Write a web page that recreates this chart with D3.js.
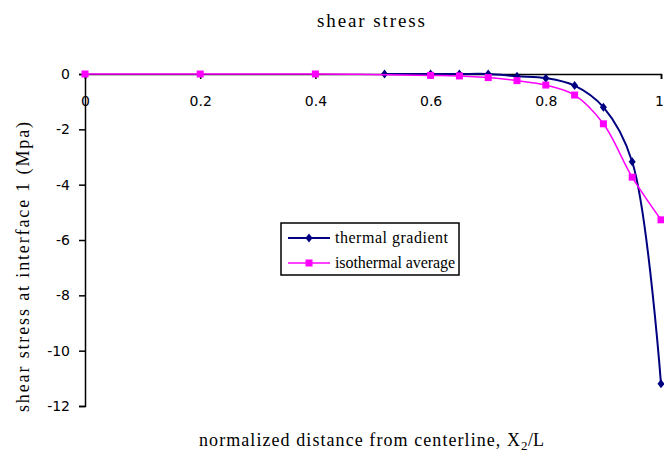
<!DOCTYPE html>
<html lang="en">
	<head>
		<meta charset="utf-8">
		<title>shear stress</title>
		<script src="https://d3js.org/d3.v7.min.js"></script>
		<style type="text/css">
			body { margin: 0; background: #fff; }
			.axis text { font-family: "DejaVu Sans", sans-serif; font-size: 14px; fill: #000; }
			.axis path, .axis line { stroke: #000; stroke-width: 1.5px; }
			.lbl { font-family: "Liberation Serif", serif; fill: #000; }
		</style>
	</head>
	<body>
		<script type="text/javascript">

			//Data
			var thermalX = [0.52, 0.6, 0.65, 0.7, 0.75, 0.8, 0.85, 0.9, 0.95, 1.0];
			var thermalY = [0, 0, 0, 0, -0.08, -0.15, -0.42, -1.2, -3.17, -11.2];
			var isoX = [0, 0.2, 0.4, 0.6, 0.65, 0.7, 0.75, 0.8, 0.85, 0.9, 0.95, 1.0];
			var isoY = [0, 0, 0, -0.05, -0.07, -0.13, -0.24, -0.4, -0.76, -1.8, -3.73, -5.27];
			var xTicks = [0, 0.2, 0.4, 0.6, 0.8, 1];
			var yTicks = [0, -2, -4, -6, -8, -10, -12];
			var seriesNames = ["thermal gradient", "isothermal average"];

			//Width and height
			var w = 664;
			var h = 452;

			var svg = d3.select("body")
						.append("svg")
						.attr("width", w)
						.attr("height", h);

			//Scales
			var xScale = d3.scaleLinear()
					.domain([0, 1])
					.range([85, 661]);

			var yScale = d3.scaleLinear()
					.domain([-12, 0])
					.range([406, 74]);

			//Y axis
			svg.append("g")
				.attr("class", "axis")
				.attr("transform", "translate(" + xScale(0) + ",0)")
				.call(d3.axisLeft(yScale)
					.tickValues(yTicks)
					.tickSize(6)
					.tickSizeOuter(6)
					.tickPadding(9)
					.tickFormat(function(d) { return String(d); }));

			//X axis at y = 0
			var xg = svg.append("g")
				.attr("class", "axis")
				.attr("transform", "translate(0," + yScale(0) + ")")
				.call(d3.axisBottom(xScale)
					.tickValues(xTicks)
					.tickSize(5)
					.tickSizeOuter(5)
					.tickPadding(17)
					.tickFormat(function(d) { return String(d); }));

			//keep the last label inside the window
			xg.selectAll(".tick text")
				.filter(function(d) { return d == 1; })
				.attr("dx", -2);

			//Lines
			var thermal = thermalX.map(function(d, i) { return [d, thermalY[i]]; });
			var iso = isoX.map(function(d, i) { return [d, isoY[i]]; });

			var line = d3.line()
					.x(function(d) { return xScale(d[0]); })
					.y(function(d) { return yScale(d[1]); })
					.curve(d3.curveCatmullRom.alpha(0.5));

			svg.append("path")
				.datum(thermal)
				.attr("d", line)
				.attr("fill", "none")
				.attr("stroke", "#000080")
				.attr("stroke-width", 2);

			svg.selectAll(".dia")
				.data(thermal)
				.enter()
				.append("path")
				.attr("class", "dia")
				.attr("d", "M0,-4.5L3.5,0L0,4.5L-3.5,0Z")
				.attr("transform", function(d) {
					return "translate(" + xScale(d[0]) + "," + yScale(d[1]) + ")";
				})
				.attr("fill", "#000080");

			svg.append("path")
				.datum(iso)
				.attr("d", line)
				.attr("fill", "none")
				.attr("stroke", "#ff00ff")
				.attr("stroke-width", 1.5);

			svg.selectAll(".sq")
				.data(iso)
				.enter()
				.append("rect")
				.attr("class", "sq")
				.attr("x", function(d) { return xScale(d[0]) - 3.5; })
				.attr("y", function(d) { return yScale(d[1]) - 3.5; })
				.attr("width", 7)
				.attr("height", 7)
				.attr("fill", "#ff00ff");

			//Title
			svg.append("text")
				.attr("class", "lbl")
				.attr("x", 317)
				.attr("y", 27)
				.attr("font-size", "19px")
				.attr("textLength", 108)
				.attr("lengthAdjust", "spacing")
				.text("shear stress");

			//X label
			svg.append("text")
				.attr("class", "lbl")
				.attr("x", 199)
				.attr("y", 446)
				.attr("font-size", "18px")
				.attr("textLength", 321)
				.attr("lengthAdjust", "spacing")
				.text("normalized distance from centerline, X");
			svg.append("text")
				.attr("class", "lbl")
				.attr("x", 521)
				.attr("y", 450)
				.attr("font-size", "13px")
				.text("2");
			svg.append("text")
				.attr("class", "lbl")
				.attr("x", 528)
				.attr("y", 446)
				.attr("font-size", "18px")
				.text("/L");

			//Y label
			svg.append("text")
				.attr("class", "lbl")
				.attr("transform", "translate(29,412) rotate(-90)")
				.attr("font-size", "18px")
				.attr("textLength", 290)
				.attr("lengthAdjust", "spacing")
				.text("shear stress at interface 1 (Mpa)");

			//Legend
			var legend = svg.append("g");
			legend.append("rect")
				.attr("x", 281)
				.attr("y", 223)
				.attr("width", 178)
				.attr("height", 52)
				.attr("fill", "#fff")
				.attr("stroke", "#000")
				.attr("stroke-width", 1.5);

			var colors = ["#000080", "#ff00ff"];
			seriesNames.forEach(function(name, i) {
				var cy = 238 + i * 25;
				legend.append("line")
					.attr("x1", 288).attr("x2", 330)
					.attr("y1", cy).attr("y2", cy)
					.attr("stroke", colors[i])
					.attr("stroke-width", i == 0 ? 2 : 1.5);
				if (i == 0) {
					legend.append("path")
						.attr("d", "M0,-4.5L3.5,0L0,4.5L-3.5,0Z")
						.attr("transform", "translate(309," + cy + ")")
						.attr("fill", colors[i]);
				} else {
					legend.append("rect")
						.attr("x", 305.5).attr("y", cy - 3.5)
						.attr("width", 7).attr("height", 7)
						.attr("fill", colors[i]);
				}
				legend.append("text")
					.attr("class", "lbl")
					.attr("x", 335)
					.attr("y", cy + 5)
					.attr("font-size", "16px")
					.attr("textLength", i == 0 ? 113 : 120)
					.attr("lengthAdjust", "spacing")
					.text(name);
			});

		</script>
	</body>
</html>
